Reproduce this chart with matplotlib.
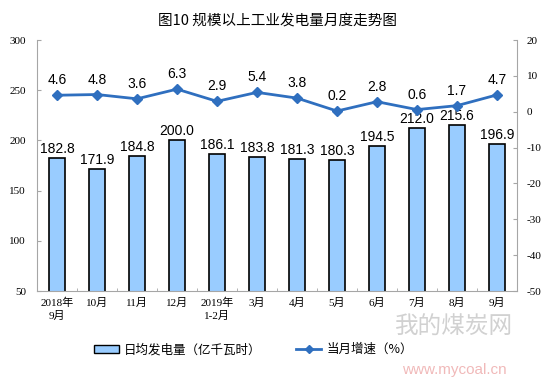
import matplotlib
matplotlib.use("Agg")
import matplotlib.pyplot as plt
from matplotlib.lines import Line2D
from matplotlib.patches import Patch

categories = ["2018年\n9月", "10月", "11月", "12月", "2019年\n1-2月", "3月", "4月", "5月", "6月", "7月", "8月", "9月"]
daily_gen = [182.8, 171.9, 184.8, 200.0, 186.1, 183.8, 181.3, 180.3, 194.5, 212.0, 215.6, 196.9]
growth = [4.6, 4.8, 3.6, 6.3, 2.9, 5.4, 3.8, 0.2, 2.8, 0.6, 1.7, 4.7]
left_ticks = [50, 100, 150, 200, 250, 300]
right_ticks = [-50, -40, -30, -20, -10, 0, 10, 20]

title = "图10 规模以上工业发电量月度走势图"
bar_label = "日均发电量（亿千瓦时）"
line_label = "当月增速（%）"

cjk = ["Noto Sans CJK SC", "DejaVu Sans"]
serif = ["Liberation Serif", "Noto Sans CJK SC"]
sans = ["Liberation Sans", "Noto Sans CJK SC"]

bar_color = "#99CCFF"
line_color = "#2F6FBF"
spine_color = "#A6A6A6"

fig = plt.figure(figsize=(5.54, 3.81), dpi=100)
ax = fig.add_axes([0.0668, 0.236, 0.8664, 0.659])
x = list(range(len(categories)))

ax.bar(x, daily_gen, width=0.4, color=bar_color, edgecolor="black", linewidth=1.2, zorder=2)
ax.set_ylim(50, 300)
ax.set_xlim(-0.5, len(categories) - 0.5)
ax.set_yticks(left_ticks)
ax.set_yticklabels([str(t) for t in left_ticks], family=serif, fontsize=8)
ax.set_xticks(x)
ax.set_xticklabels(categories, family=serif, fontsize=8, linespacing=1.3)
ax.tick_params(axis="x", length=0, pad=5)
ax.set_xticks([i + 0.5 for i in x[:-1]], minor=True)
ax.tick_params(axis="x", which="minor", length=2, direction="in", color=spine_color)
ax.tick_params(axis="y", length=3, direction="in", color=spine_color, pad=8)
for s in ["top", "right"]:
    ax.spines[s].set_visible(False)
for s in ["left", "bottom"]:
    ax.spines[s].set_color(spine_color)
    ax.spines[s].set_linewidth(0.8)

for xi, v in zip(x, daily_gen):
    ax.text(xi, v + 2, f"{v:.1f}", ha="center", va="bottom", family=sans, fontsize=10, zorder=4)

ax2 = ax.twinx()
ax2.plot(x, growth, color=line_color, linewidth=2, marker="D", markersize=5, zorder=3)
ax2.set_ylim(-50, 20)
ax2.set_yticks(right_ticks)
ax2.set_yticklabels([str(t) for t in right_ticks], family=serif, fontsize=8)
ax2.tick_params(axis="y", length=3, direction="in", color=spine_color, pad=7)
for s in ["top", "left", "bottom"]:
    ax2.spines[s].set_visible(False)
ax2.spines["right"].set_color(spine_color)
ax2.spines["right"].set_linewidth(0.8)
for xi, v in zip(x, growth):
    ax2.text(xi, v + 2.2, f"{v:.1f}", ha="center", va="bottom", family=sans, fontsize=10, zorder=4)

fig.text(0.5, 0.945, title, ha="center", va="center", family=cjk, fontsize=10.5)

# watermark
fig.text(0.82, 0.14, "我的煤炭网", ha="center", va="center", family=cjk, fontsize=17, color="#999999", alpha=0.45)
fig.text(0.82, 0.03, "www.mycoal.cn", ha="center", va="center", family=sans, fontsize=11, color="#E58080", alpha=0.55)

handles = [Patch(facecolor=bar_color, edgecolor="black", linewidth=1.0),
           Line2D([0], [0], color=line_color, linewidth=2, marker="D", markersize=4)]
fig.legend([handles[0]], [bar_label], loc="center", bbox_to_anchor=(0.32, 0.082),
           frameon=False, prop={"family": cjk, "size": 9}, handlelength=2.0, handleheight=0.6,
           handletextpad=0.4)
fig.legend([handles[1]], [line_label], loc="center", bbox_to_anchor=(0.64, 0.082),
           frameon=False, prop={"family": cjk, "size": 9}, handlelength=2.0, handletextpad=0.4)

fig.savefig("out.png", dpi=100)
